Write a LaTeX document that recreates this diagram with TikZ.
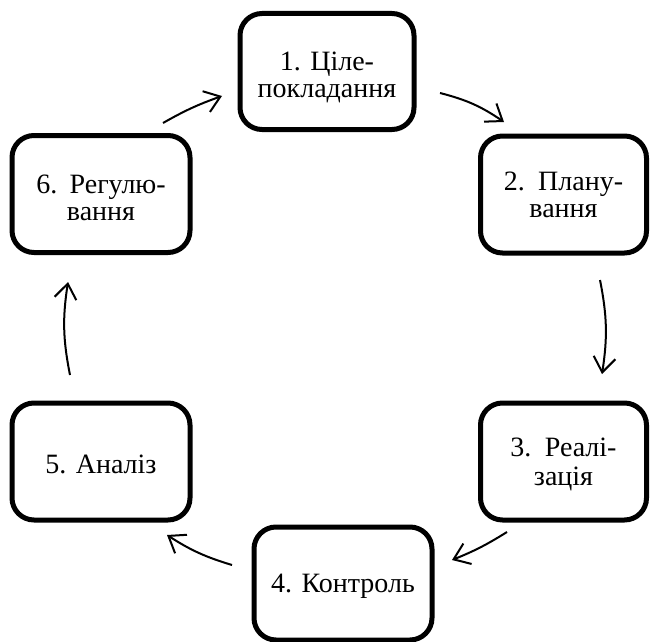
\documentclass[tikz,border=0pt]{standalone}
\usepackage{fontspec}
\setmainfont{Liberation Serif}
\usetikzlibrary{arrows.meta}
\newcommand{\twolines}[2]{\begin{tabular}{@{}c@{}}#1\\[3.5pt]#2\end{tabular}}
\begin{document}
\begin{tikzpicture}[x=1pt,y=-1pt,
  stage/.style={draw=black, line width=5pt, rounded corners=22pt, fill=white,
    minimum width=#1, inner sep=0pt},
  stage/.default=176pt,
  lbl/.style={inner sep=0pt, align=center, font=\fontsize{28}{23}\selectfont},
  flow/.style={line width=2pt, -{Straight Barb[length=15pt,width=22pt,line width=2pt]}}]
\useasboundingbox (0,0) rectangle (653,642);
\node[stage=174pt, minimum height=116pt] (n1) at (327,71.5) {};
\node[stage=166pt, minimum height=117pt] (n2) at (563.5,194.5) {};
\node[stage=166pt, minimum height=117pt] (n3) at (563.5,461.5) {};
\node[stage=178pt, minimum height=113pt] (n4) at (343,583.5) {};
\node[stage=178pt, minimum height=117pt] (n5) at (101,461.5) {};
\node[stage=178pt, minimum height=117pt] (n6) at (101,194) {};
\node[lbl, yshift=-6.5pt] (t1) at (n1.center) {\twolines{1. Ціле-}{покладання}};
\node[lbl, yshift=-3.5pt] (t2) at (n2.center) {\twolines{2.\hspace{4pt} Плану-}{вання}};
\node[lbl, yshift=-4pt] (t3) at (n3.center) {\twolines{3.\hspace{4pt} Реалі-}{зація}};
\node[lbl, yshift=-3pt] (t4) at (n4.center) {4. Контроль};
\node[lbl, yshift=-3pt] (t5) at (n5.center) {5. Аналіз};
\node[lbl, yshift=-7pt] (t6) at (n6.center) {\twolines{6.\hspace{3pt} Регулю-}{вання}};
\coordinate (a1s) at (440,93);  \coordinate (a1e) at (504,122);
\coordinate (a2s) at (600,280); \coordinate (a2e) at (602,374);
\coordinate (a3s) at (507,532); \coordinate (a3e) at (452,560);
\coordinate (a4s) at (232,565); \coordinate (a4e) at (167,535);
\coordinate (a5s) at (70,375);  \coordinate (a5e) at (68,282);
\coordinate (a6s) at (163,123); \coordinate (a6e) at (222,96);
\draw[flow] (a1s) to[bend left=10] (a1e);
\draw[flow] (a2s) to[bend left=10] (a2e);
\draw[flow] (a3s) to[bend left=5] (a3e);
\draw[flow] (a4s) to[bend left=8] (a4e);
\draw[flow] (a5s) to[bend left=10] (a5e);
\draw[flow] (a6s) to[bend left=5] (a6e);
\end{tikzpicture}
\end{document}
